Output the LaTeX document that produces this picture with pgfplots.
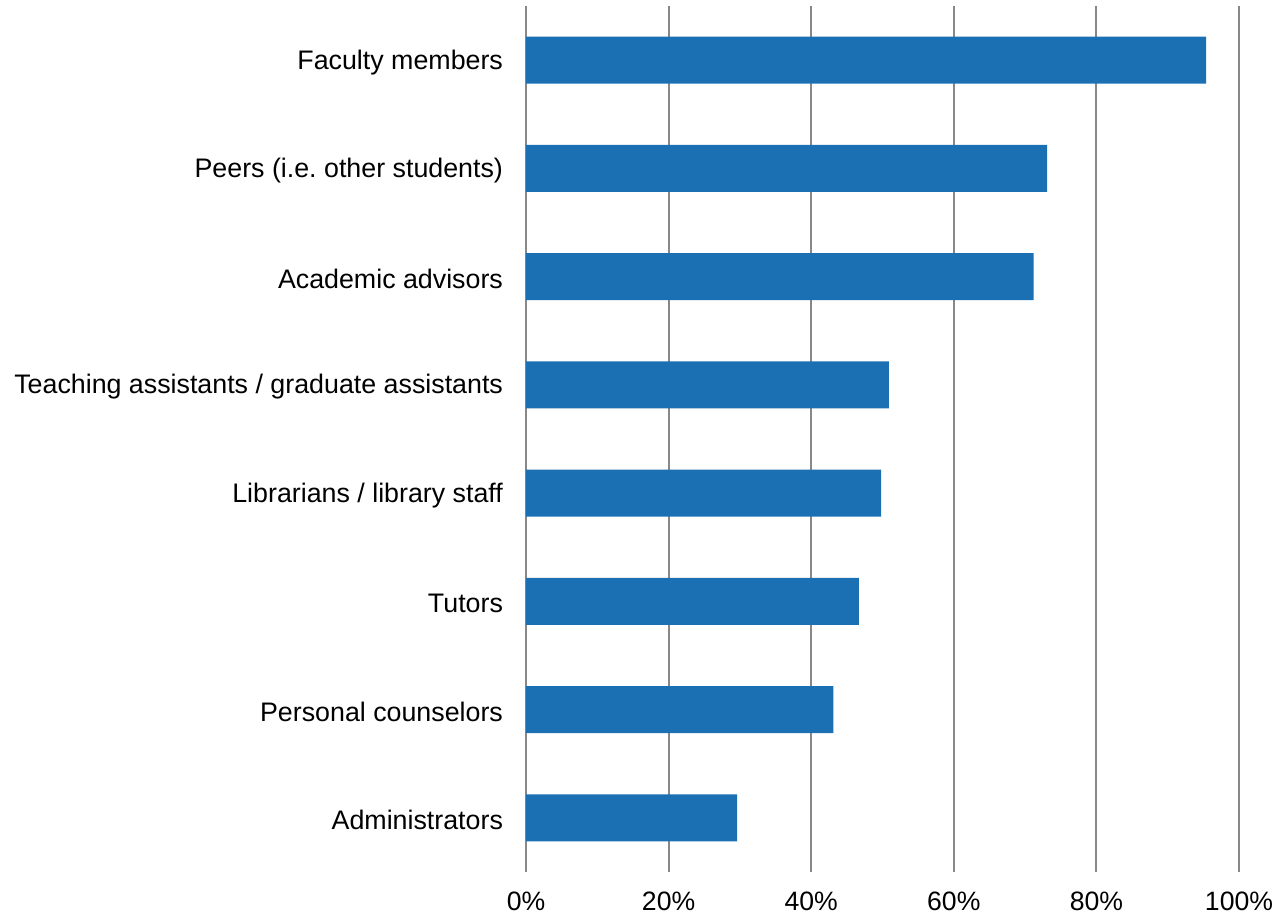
\documentclass[border=0pt]{standalone}
\usepackage{fontspec}
\setmainfont{Liberation Sans}
\usepackage{pgfplots}
\pgfplotsset{compat=1.18}
\definecolor{barblue}{RGB}{26,112,178}
\definecolor{gridgray}{RGB}{136,136,136}
\frenchspacing
\begin{document}
\begin{tikzpicture}
\useasboundingbox (-263pt,-23pt) rectangle (376pt,436pt);
\begin{axis}[
  scale only axis,
  width=356.5pt, height=433pt,
  xmin=0, xmax=100,
  ymin=-0.5, ymax=7.5,
  xbar, bar width=23.5pt,
  axis line style={draw=none},
  major tick length=0pt,
  xmajorgrids, grid style={gridgray, line width=1pt},
  xtick={0,20,40,60,80,100},
  xticklabel={\pgfmathprintnumber{\tick}\%},
  /pgf/number format/assume math mode=true,
  xticklabel style={font=\fontsize{13.3}{15}\selectfont, yshift=-6.5pt},
  ytick={0,1,2,3,4,5,6,7},
  yticklabels={Administrators, Personal counselors, Tutors, Librarians / library staff, Teaching assistants / graduate assistants, Academic advisors, Peers (i.e.\ other students), Faculty members},
  yticklabel style={font=\fontsize{13.4}{15}\selectfont, xshift=-8pt, yshift=-1pt},
]
\addplot[fill=barblue, draw=none] coordinates {
  (29.6,0) (43.1,1) (46.7,2) (49.8,3) (50.9,4) (71.2,5) (73.1,6) (95.4,7)
};
\end{axis}
\end{tikzpicture}
\end{document}
